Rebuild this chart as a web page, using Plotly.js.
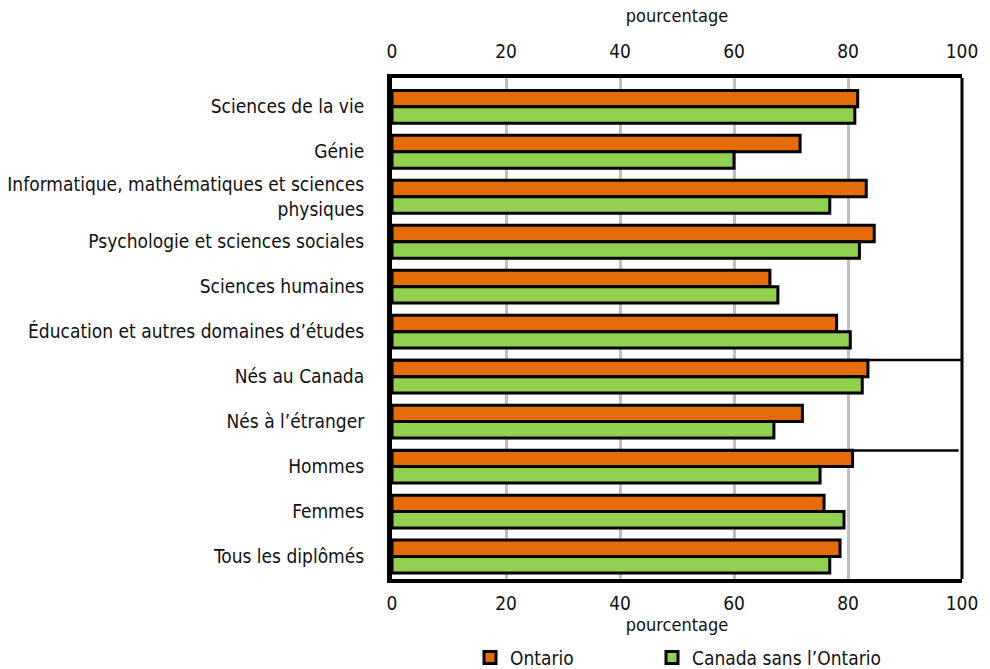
<!DOCTYPE html>
<html>
<head>
<meta charset="utf-8">
<script src="https://cdn.plot.ly/plotly-3.0.1.min.js"></script>
<style>html,body{margin:0;padding:0;background:#fff;}#chart{width:990px;height:669px;}</style>
</head>
<body>
<div id="chart"></div>
<script>
const categories = [
  "Sciences de la vie",
  "Génie",
  "Informatique, mathématiques et sciences<br>physiques",
  "Psychologie et sciences sociales",
  "Sciences humaines",
  "Éducation et autres domaines d’études",
  "Nés au Canada",
  "Nés à l’étranger",
  "Hommes",
  "Femmes",
  "Tous les diplômés"
];
const ontario = [81.7, 71.6, 83.2, 84.6, 66.3, 78.0, 83.5, 72.0, 80.8, 75.8, 78.6];
const canadaSansOntario = [81.2, 60.0, 76.8, 82.0, 67.7, 80.4, 82.5, 67.0, 75.1, 79.3, 76.8];
const seriesNames = ["Ontario", "Canada sans l’Ontario"];
const tickVals = [0, 20, 40, 60, 80, 100];
const axisTitle = "pourcentage";

const FONT = "'DejaVu Sans Condensed', 'Roboto', 'Liberation Sans', sans-serif";

const traces = [
  {type: 'bar', orientation: 'h', name: seriesNames[0], y: categories, x: ontario,
   legend: 'legend',
   marker: {color: '#E46C0A', line: {color: '#000', width: 3}}},
  {type: 'bar', orientation: 'h', name: seriesNames[1], y: categories, x: canadaSansOntario,
   legend: 'legend2',
   marker: {color: '#92D050', line: {color: '#000', width: 3}}},
  {type: 'scatter', mode: 'markers', x: [0], y: [categories[0]], xaxis: 'x2',
   showlegend: false, hoverinfo: 'skip', marker: {opacity: 0}}
];

const legendBase = {orientation: 'h', xref: 'container', xanchor: 'left',
                    y: 0.017, yref: 'container', yanchor: 'middle',
                    font: {size: 19}, bgcolor: 'rgba(0,0,0,0)'};

const layout = {
  width: 990, height: 669,
  margin: {l: 392, r: 28, t: 78, b: 90},
  paper_bgcolor: '#fff', plot_bgcolor: '#fff',
  font: {family: FONT, size: 19, color: '#111'},
  barmode: 'group', bargap: 0.27, bargroupgap: 0,
  showlegend: true,
  legend: Object.assign({}, legendBase, {x: 470 / 990}),
  legend2: Object.assign({}, legendBase, {x: 652 / 990}),
  xaxis: {side: 'top', range: [0, 100], tickvals: tickVals, ticks: '',
          showgrid: true, gridcolor: '#BFBFBF', gridwidth: 3, zeroline: false,
          showline: true, linecolor: '#000', linewidth: 4, ticklabelstandoff: 8,
          tickfont: {size: 19}, title: {text: axisTitle, font: {size: 18}, standoff: 14}},
  xaxis2: {side: 'bottom', overlaying: 'x', range: [0, 100], tickvals: tickVals, ticks: '',
           showgrid: false, zeroline: false, showline: true, linecolor: '#000', linewidth: 4,
           ticklabelstandoff: 4,
           tickfont: {size: 19}, title: {text: axisTitle, font: {size: 18}, standoff: 2}},
  yaxis: {autorange: 'reversed', ticks: '', showgrid: false, showline: true,
          linecolor: '#000', linewidth: 5, ticklabelstandoff: 19,
          tickfont: {size: 19}},
  shapes: [
    {type: 'line', xref: 'paper', yref: 'paper', x0: 1, x1: 1, y0: 0, y1: 1,
     line: {color: '#000', width: 3}},
    {type: 'line', xref: 'paper', yref: 'y', x0: 0, x1: 1, y0: 5.63, y1: 5.63,
     line: {color: '#000', width: 2.5}},
    {type: 'line', xref: 'paper', yref: 'y', x0: 0, x1: 0.994, y0: 7.64, y1: 7.64,
     line: {color: '#000', width: 2.5}}
  ]
};

Plotly.newPlot('chart', traces, layout, {displayModeBar: false, staticPlot: true});
</script>
</body>
</html>
